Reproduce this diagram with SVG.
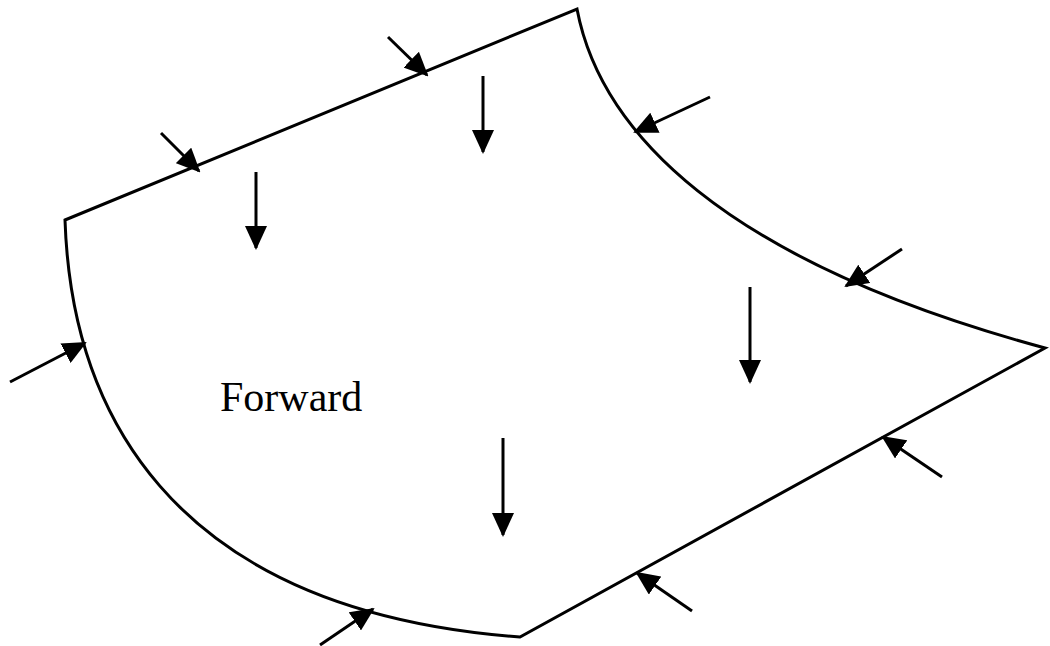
<svg xmlns="http://www.w3.org/2000/svg" width="1050" height="646" viewBox="0 0 1050 646">
<style>
.edge{fill:none;stroke:#000;stroke-width:3;stroke-linejoin:miter}
.arr{stroke:#000;stroke-width:3;fill:none;marker-end:url(#ah)}
.lbl{font-family:"Liberation Serif","Times New Roman",serif;font-size:42px;fill:#000}
</style>
<defs>
<marker id="ah" viewBox="0 0 24 22" refX="22" refY="11" markerUnits="userSpaceOnUse" markerWidth="24" markerHeight="22" orient="auto">
<path d="M0,0 L24,11 L0,22 z" fill="#000"/>
</marker>
</defs>
<rect width="1050" height="646" fill="#fff"/>
<g id="region">
<path class="edge" d="M65,220 L577,9 C600,130 720,260 1045,348 L520,637 C160,610 71,400 65,220 Z"/>
<text class="lbl" x="220" y="411">Forward</text>
</g>
<g id="connectors">
<line class="arr" x1="161" y1="133" x2="199" y2="171"/>
<line class="arr" x1="388" y1="37" x2="427" y2="75"/>
<line class="arr" x1="256" y1="172" x2="256" y2="248"/>
<line class="arr" x1="483" y1="76" x2="483" y2="152"/>
<line class="arr" x1="710" y1="97" x2="635" y2="132"/>
<line class="arr" x1="902" y1="249" x2="846" y2="286"/>
<line class="arr" x1="750" y1="287" x2="750" y2="382"/>
<line class="arr" x1="942" y1="477" x2="883" y2="437"/>
<line class="arr" x1="692" y1="611" x2="637" y2="573"/>
<line class="arr" x1="503" y1="438" x2="503" y2="535"/>
<line class="arr" x1="10" y1="382" x2="85" y2="343"/>
<line class="arr" x1="320" y1="645" x2="373" y2="609"/>
</g>
</svg>
